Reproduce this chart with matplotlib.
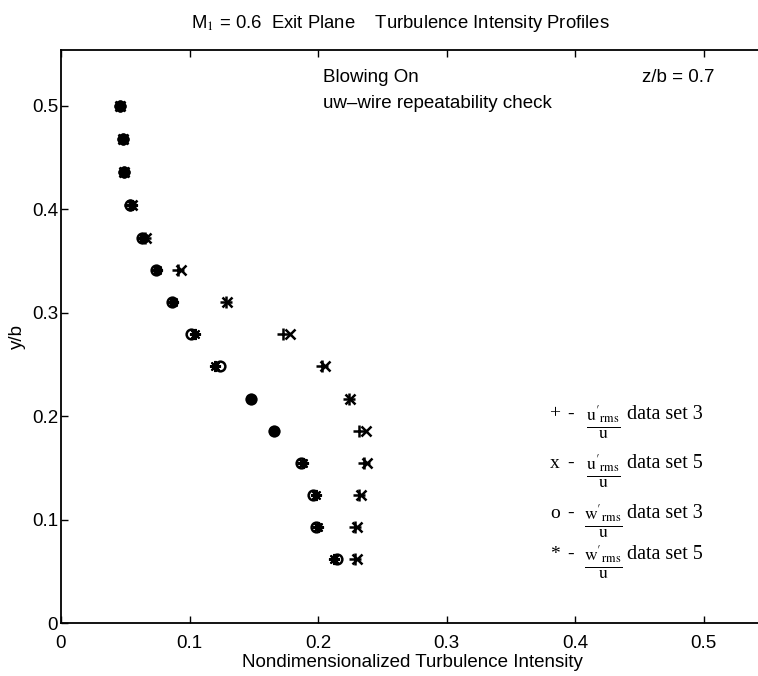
import matplotlib
matplotlib.use("Agg")
import matplotlib.pyplot as plt

plt.rcParams['font.family'] = ['Liberation Sans', 'DejaVu Sans']
plt.rcParams['mathtext.fontset'] = 'stix'

# y/b stations
y_b = [0.500, 0.468, 0.436, 0.404, 0.372, 0.341, 0.310, 0.279,
       0.248, 0.217, 0.186, 0.155, 0.124, 0.093, 0.062]
# u'rms/u data set 3 (+)
u_set3 = [0.046, 0.048, 0.049, 0.054, 0.065, 0.091, 0.128, 0.173,
          0.203, 0.224, 0.232, 0.236, 0.232, 0.229, 0.229]
# u'rms/u data set 5 (x)
u_set5 = [0.046, 0.048, 0.049, 0.055, 0.066, 0.093, 0.129, 0.178,
          0.205, 0.225, 0.237, 0.238, 0.233, 0.230, 0.230]
# w'rms/u data set 3 (o)
w_set3 = [0.046, 0.048, 0.049, 0.054, 0.063, 0.074, 0.086, 0.101,
          0.124, 0.148, 0.166, 0.187, 0.196, 0.198, 0.215]
# w'rms/u data set 5 (*)
w_set5 = [0.046, 0.048, 0.049, 0.055, 0.064, 0.075, 0.087, 0.104,
          0.120, 0.148, 0.166, 0.188, 0.198, 0.200, 0.212]

xticks = [0, 0.1, 0.2, 0.3, 0.4, 0.5]
xtick_labels = ['0', '0.1', '0.2', '0.3', '0.4', '0.5']
yticks = [0, 0.1, 0.2, 0.3, 0.4, 0.5]
ytick_labels = ['0', '0.1', '0.2', '0.3', '0.4', '0.5']

fig = plt.figure(figsize=(7.58, 6.76), dpi=100)
ax = fig.add_axes([61/758, 1-623/676, 702/758, (623-50)/676])

ms = 8
mew = 1.8
ax.plot(u_set3, y_b, linestyle='none', marker='+', color='black', ms=ms+1, mew=mew)
ax.plot(u_set5, y_b, linestyle='none', marker='x', color='black', ms=ms-1, mew=mew)
ax.plot(w_set3, y_b, linestyle='none', marker='o', mfc='none', color='black', ms=ms-1, mew=mew)
ax.plot(w_set5, y_b, linestyle='none', marker=(8, 2, 0), color='black', ms=ms, mew=mew-0.3)

ax.set_xlim(0, 0.546)
ax.set_ylim(0, 0.554)
ax.set_xticks(xticks)
ax.set_xticklabels(xtick_labels)
ax.set_yticks(yticks)
ax.set_yticklabels(ytick_labels)
ax.tick_params(direction='in', top=True, right=False, length=5, width=1,
               labelsize=13.5)
ax.tick_params(axis='x', pad=9)
ax.tick_params(axis='y', pad=2)
for s in ax.spines.values():
    s.set_linewidth(1.3)

ax.set_xlabel('Nondimensionalized Turbulence Intensity', fontsize=13.5, labelpad=1)
ax.set_ylabel('y/b', fontsize=13.5, labelpad=4)
fig.text(400/758, 1-23/676, r'M$_1$ = 0.6  Exit Plane    Turbulence Intensity Profiles',
         ha='center', va='center', fontsize=13.3)

ax.text(0.204, 0.5275, 'Blowing On', fontsize=13.5, va='center', ha='left')
ax.text(0.204, 0.502, 'uw\u2013wire repeatability check', fontsize=13.5, va='center', ha='left')
ax.text(0.508, 0.5275, 'z/b = 0.7', fontsize=13.5, va='center', ha='right')

# legend block
leg_markers = ['+', 'x', 'o', '*']
leg_fracs = [r"$\frac{\mathrm{u}'_{\mathrm{rms}}}{\mathrm{u}}$", r"$\frac{\mathrm{u}'_{\mathrm{rms}}}{\mathrm{u}}$",
             r"$\frac{\mathrm{w}'_{\mathrm{rms}}}{\mathrm{u}}$", r"$\frac{\mathrm{w}'_{\mathrm{rms}}}{\mathrm{u}}$"]
leg_labels = ['data set 3', 'data set 5', 'data set 3', 'data set 5']
leg_y = [0.202, 0.154, 0.106, 0.066]
for m, f, lab, yy in zip(leg_markers, leg_fracs, leg_labels, leg_y):
    ax.text(0.384, yy, m, fontsize=14, va='center', ha='center',
            family=['Liberation Serif'])
    ax.text(0.3965, yy, '-', fontsize=14, va='center', ha='center',
            family=['Liberation Serif'])
    ax.text(0.4218, yy - 0.008, f, fontsize=18, va='center', ha='center')
    ax.text(0.4405, yy, lab, fontsize=14.5, va='center', ha='left',
            family=['Liberation Serif'])

fig.savefig('out.png', dpi=100)
